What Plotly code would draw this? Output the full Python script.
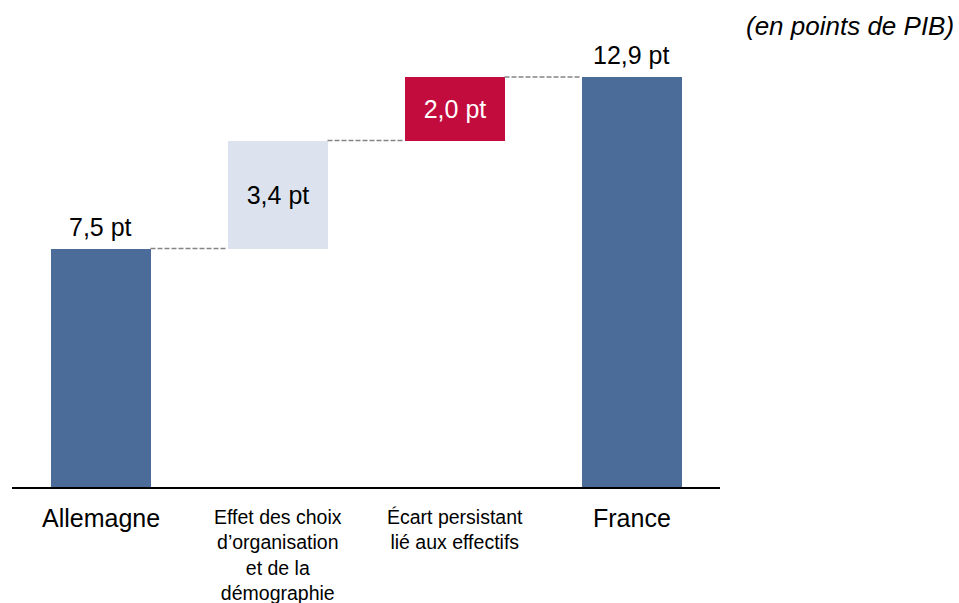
import plotly.graph_objects as go

# Waterfall: Germany -> effects -> France (points of GDP)
categories = ["Allemagne",
              "Effet des choix<br>d\u2019organisation<br>et de la<br>démographie",
              "Écart persistant<br>lié aux effectifs",
              "France"]
values = [7.5, 3.4, 2.0, 12.9]
kinds = ["total", "step", "step", "total"]
bar_colors = ["#4b6b98", "#dde3ee", "#c30c3e", "#4b6b98"]
text_colors = ["#000000", "#000000", "#ffffff", "#000000"]
label_sizes = [25, 19.5, 19.5, 25]
label_shifts = [-15, -17, -17, -15]

FONT = "Liberation Sans, Arial, sans-serif"
xpos = list(range(len(categories)))
bar_w = 0.565

# bases: totals start at 0, steps stack on the running level
bases = []
level = 0.0
for v, k in zip(values, kinds):
    if k == "total":
        bases.append(0.0)
        level = v
    else:
        bases.append(level)
        level += v
tops = [b + v for b, v in zip(bases, values)]

labels = [f"{v:.1f}".replace(".", ",") + " pt" for v in values]
inside_text = [t if k == "step" else "" for t, k in zip(labels, kinds)]

fig = go.Figure()
fig.add_trace(go.Bar(
    x=xpos, y=values, base=bases, width=bar_w,
    marker=dict(color=bar_colors, line=dict(width=0)),
    text=inside_text, textposition="inside",
    insidetextanchor="middle",
    textfont=dict(family=FONT, size=25, color=text_colors),
    cliponaxis=False, hoverinfo="skip", showlegend=False,
))

# dashed connectors between consecutive bars
shapes = []
for i in range(len(xpos) - 1):
    shapes.append(dict(
        type="line", xref="x", yref="y",
        x0=xpos[i] + bar_w / 2, x1=xpos[i + 1] - bar_w / 2,
        y0=tops[i], y1=tops[i],
        line=dict(color="#858585", width=1.5, dash="5px,2px"),
    ))

annotations = []
# value labels above the total bars
for x, t, k, lab in zip(xpos, tops, kinds, labels):
    if k == "total":
        annotations.append(dict(
            x=x, y=t, xref="x", yref="y", text=lab, showarrow=False,
            xanchor="center", yanchor="bottom", yshift=6,
            font=dict(family=FONT, size=25, color="#000000"),
        ))

# category labels under the axis
for x, cat, size, sh in zip(xpos, categories, label_sizes, label_shifts):
    annotations.append(dict(
        x=x, y=0, xref="x", yref="y", text=cat, showarrow=False,
        xanchor="center", yanchor="top", yshift=sh, align="center",
        font=dict(family=FONT, size=size, color="#000000"),
    ))

annotations.append(dict(
    x=1.334, y=1.075, xref="paper", yref="paper",
    text="<i>(en points de PIB)</i>", showarrow=False,
    xanchor="right", yanchor="top",
    font=dict(family=FONT, size=26, color="#000000"),
))

fig.update_layout(
    width=959, height=603,
    margin=dict(l=12, r=239, t=42, b=116),
    paper_bgcolor="white", plot_bgcolor="white",
    font=dict(family=FONT, color="#000000"),
    shapes=shapes, annotations=annotations,
    bargap=0,
    xaxis=dict(range=[-0.5, 3.5], showline=True, linecolor="#000000",
               linewidth=2, showticklabels=False, ticks="",
               showgrid=False, zeroline=False, fixedrange=True),
    yaxis=dict(range=[0, 14], visible=False, showgrid=False,
               zeroline=False, fixedrange=True),
)

fig.write_html("out.html")
